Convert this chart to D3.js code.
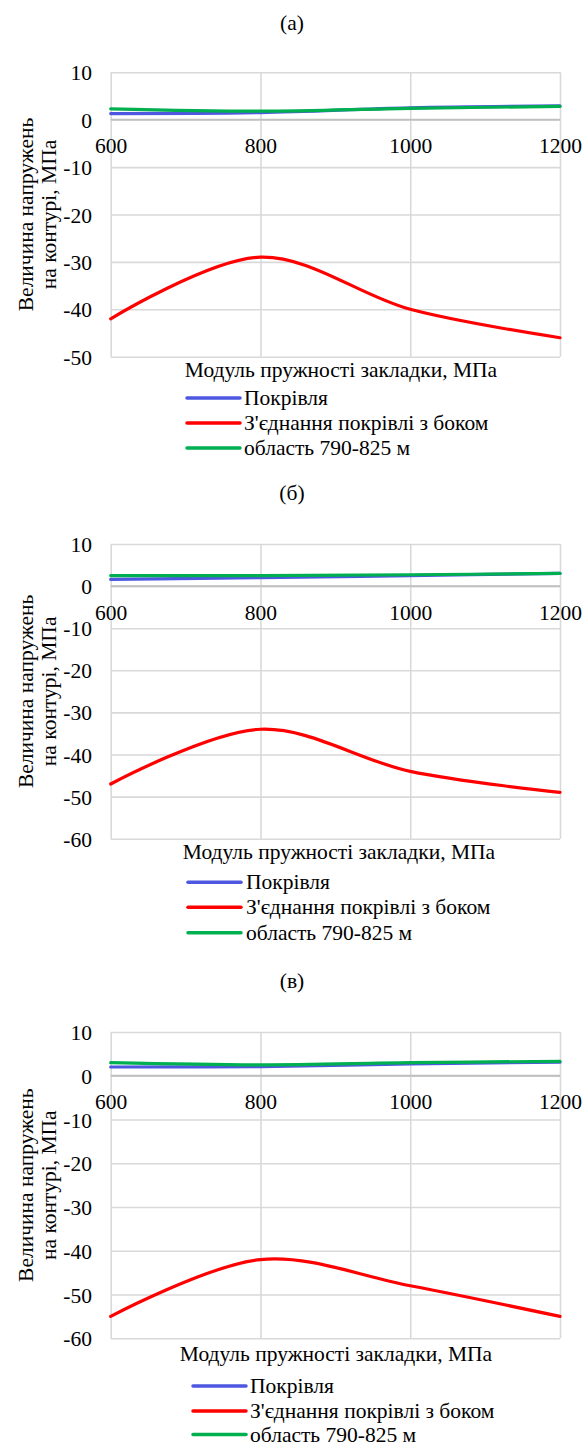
<!DOCTYPE html>
<html><head><meta charset="utf-8">
<script src="https://cdn.jsdelivr.net/npm/d3@7"></script>
<style>
html,body{margin:0;padding:0;background:#fff;}
svg{display:block;}
svg text{font-family:"Liberation Serif","Times New Roman","DejaVu Serif",serif !important;fill:#000;}
</style></head>
<body>
<svg id="chart" width="587" height="1446"></svg>
<script>
// ---- data ----
const xValues = [600, 800, 1000, 1200];
const xTicks = [600, 800, 1000, 1200];
const seriesNames = ["Покрівля", "З'єднання покрівлі з боком", "область 790-825 м"];
const panelTitles = ["(а)", "(б)", "(в)"];
const roofA = [1.3, 1.5, 2.5, 2.9];
const jointA = [-42, -29, -40, -46];
const zoneA = [2.3, 1.8, 2.4, 2.8];
const roofB = [1.6, 2.0, 2.5, 3.0];
const jointB = [-47, -34, -44, -49];
const zoneB = [2.5, 2.5, 2.7, 3.0];
const roofC = [2.0, 2.1, 2.7, 3.1];
const jointC = [-55, -42, -48, -55];
const zoneC = [3.0, 2.5, 3.0, 3.3];
const yTicksA = [10, 0, -10, -20, -30, -40, -50];
const yTicksBC = [10, 0, -10, -20, -30, -40, -50, -60];
const xAxisTitle = "Модуль пружності закладки, МПа";
const yAxisTitle = ["Величина напружень", "на контурі, МПа"];

// ---- layout / style ----
const colors = ["#4e57e0", "#ff0000", "#00b050"];
const panels = [
  {title: panelTitles[0], titleY: 23, top: 72.3, bottom: 356.7, yMin: -50, yTicks: yTicksA,
   series: [roofA, jointA, zoneA], xTitleX: 341, xTitleY: 370, legX: 187, legTextX: 244, legY: [398, 423, 448]},
  {title: panelTitles[1], titleY: 493, top: 544, bottom: 838.7, yMin: -60, yTicks: yTicksBC,
   series: [roofB, jointB, zoneB], xTitleX: 339, xTitleY: 852, legX: 188, legTextX: 246, legY: [882.3, 907.3, 932.7]},
  {title: panelTitles[2], titleY: 981, top: 1032, bottom: 1338.3, yMin: -60, yTicks: yTicksBC,
   series: [roofC, jointC, zoneC], xTitleX: 336, xTitleY: 1354, legX: 193, legTextX: 250, legY: [1386, 1411, 1434.5]}
];
const left = 110.7, right = 560;
const fs = 21.5;
const fmt = d => String(d);

const svg = d3.select("#chart");

panels.forEach(p => {
  const g = svg.append("g");
  const x = d3.scaleLinear().domain([600, 1200]).range([left, right]);
  const y = d3.scaleLinear().domain([p.yMin, 10]).range([p.bottom, p.top]);

  g.append("text").attr("x", 292).attr("y", p.titleY).attr("text-anchor", "middle")
    .attr("dominant-baseline", "central").attr("font-size", fs).text(p.title);

  const hg = g.append("g").attr("transform", `translate(${left},0)`)
    .call(d3.axisLeft(y).tickValues(p.yTicks).tickSize(-(right - left)).tickFormat(""));
  hg.select(".domain").remove();
  hg.selectAll(".tick line").attr("stroke", "#d9d9d9").attr("stroke-width", 1.6);

  const vg = g.append("g").attr("transform", `translate(0,${p.bottom})`)
    .call(d3.axisBottom(x).tickValues(xTicks).tickSize(-(p.bottom - p.top)).tickFormat(""));
  vg.select(".domain").remove();
  vg.selectAll(".tick line").attr("stroke", "#d9d9d9").attr("stroke-width", 1.6);

  g.append("line").attr("x1", left).attr("x2", right).attr("y1", y(0)).attr("y2", y(0))
    .attr("stroke", "#bfbfbf").attr("stroke-width", 1.8);

  const yl = g.append("g").attr("transform", `translate(92,0)`)
    .call(d3.axisLeft(y).tickValues(p.yTicks).tickSize(0).tickPadding(0).tickFormat(fmt));
  yl.select(".domain").remove();
  yl.attr("font-size", fs);
  yl.selectAll("text").attr("text-anchor", "end").attr("dy", "0.35em");

  const xl = g.append("g").attr("transform", `translate(0,${y(0)})`)
    .call(d3.axisBottom(x).tickValues(xTicks).tickSize(0).tickPadding(0).tickFormat(fmt));
  xl.select(".domain").remove();
  xl.attr("font-size", fs);
  xl.selectAll("text").attr("y", 26).attr("dy", "0.35em");

  const line = d3.line().x((d, i) => x(xValues[i])).y(d => y(d)).curve(d3.curveCatmullRom.alpha(0.5));
  p.series.forEach((s, i) => {
    g.append("path").datum(s).attr("d", line).attr("fill", "none")
      .attr("stroke", colors[i]).attr("stroke-width", 3.2).attr("stroke-linecap", "round");
  });

  g.append("text").attr("x", p.xTitleX).attr("y", p.xTitleY).attr("text-anchor", "middle")
    .attr("dominant-baseline", "central").attr("font-size", fs).text(xAxisTitle);
  const cy = (p.top + p.bottom) / 2;
  yAxisTitle.forEach((t, i) => {
    g.append("text").attr("transform", `translate(${26 + i * 23},${cy}) rotate(-90)`)
      .attr("text-anchor", "middle").attr("dominant-baseline", "central").attr("font-size", fs).text(t);
  });

  seriesNames.forEach((n, i) => {
    g.append("line").attr("x1", p.legX).attr("x2", p.legX + 53).attr("y1", p.legY[i]).attr("y2", p.legY[i])
      .attr("stroke", colors[i]).attr("stroke-width", 3.5).attr("stroke-linecap", "round");
    g.append("text").attr("x", p.legTextX).attr("y", p.legY[i]).attr("dominant-baseline", "central")
      .attr("font-size", fs).text(n);
  });
});
</script>
</body></html>
